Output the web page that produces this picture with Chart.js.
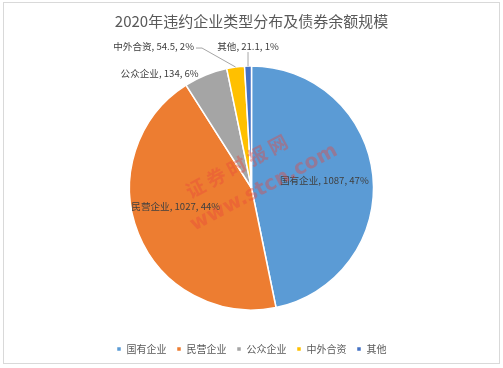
<!DOCTYPE html>
<html>
<head>
<meta charset="utf-8">
<script src="https://cdn.jsdelivr.net/npm/chart.js@4.4.0/dist/chart.umd.min.js"></script>
<style>
  html, body { margin: 0; padding: 0; background: #fff; }
  #wrap { width: 503px; height: 368px; }
</style>
</head>
<body>
<div id="wrap"><canvas id="myChart" width="503" height="368"></canvas></div>
<script>
// Dữ liệu
const categories = ['国有企业', '民营企业', '公众企业', '中外合资', '其他'];
const amounts = [1087, 1027, 134, 54.5, 21.1];
const percents = [47, 44, 6, 2, 1];
const chartTitle = '2020年违约企业类型分布及债券余额规模';

// Màu sắc
const colors = ['#5B9BD5', '#ED7D31', '#A5A5A5', '#FFC000', '#4472C4'];
const labelFont = '9.6px "Noto Sans CJK SC", sans-serif';

// Vị trí nhãn: r = hệ số bán kính, dx/dy = dịch chuyển, line = có đường dẫn
const labelPlace = [
    {r: 0.6, dx: 0, dy: 0, line: false},
    {r: 0.67, dx: 0, dy: -12, line: false},
    {r: 1.0, dx: -46, dy: -2, line: false},
    {r: 1.0, dx: -82, dy: -21, line: true},
    {r: 1.0, dx: 0, dy: -20, line: true}
];

// Khung nền
const framePlugin = {
    id: 'frame',
    beforeDraw(chart) {
        const c = chart.ctx;
        c.save();
        c.fillStyle = '#fff';
        c.fillRect(0, 0, chart.width, chart.height);
        c.strokeStyle = '#d9d9d9';
        c.lineWidth = 1;
        c.strokeRect(3.5, 2.5, 496, 361);
        c.restore();
    }
};

// Nhãn dữ liệu + watermark
const labelPlugin = {
    id: 'sliceLabels',
    afterDatasetsDraw(chart) {
        const c = chart.ctx;
        const arcs = chart.getDatasetMeta(0).data;
        c.save();
        c.font = labelFont;
        c.fillStyle = '#404040';
        c.textBaseline = 'middle';
        arcs.forEach((arc, i) => {
            const mid = (arc.startAngle + arc.endAngle) / 2;
            const p = labelPlace[i];
            const ox = arc.x + Math.cos(mid) * arc.outerRadius;
            const oy = arc.y + Math.sin(mid) * arc.outerRadius;
            const x = arc.x + Math.cos(mid) * arc.outerRadius * p.r + p.dx;
            const y = arc.y + Math.sin(mid) * arc.outerRadius * p.r + p.dy;
            const text = categories[i] + ', ' + amounts[i] + ', ' + percents[i] + '%';
            c.textAlign = 'center';
            c.fillText(text, x, y);
            if (p.line) {
                const w = c.measureText(text).width;
                c.strokeStyle = '#a6a6a6';
                c.lineWidth = 1;
                c.beginPath();
                if (p.dx < 0) {
                    c.moveTo(x + w / 2 + 2, y + 2);
                    c.lineTo(x + w / 2 + 8, y + 2);
                } else {
                    c.moveTo(x, y + 6);
                }
                c.lineTo(ox, oy);
                c.stroke();
            }
        });
        c.restore();

        // Watermark
        c.save();
        c.translate(246, 184);
        c.rotate(-28 * Math.PI / 180);
        c.fillStyle = 'rgba(232, 70, 60, 0.4)';
        c.textAlign = 'center';
        c.textBaseline = 'middle';
        c.font = 'bold 19px "Noto Sans CJK SC", sans-serif';
        c.fillText('证 券 时 报 网', 0, -20);
        c.font = 'bold 20px "DejaVu Sans", sans-serif';
        c.fillText('www.stcn.com', 14, 12);
        c.restore();
    }
};

const ctx = document.getElementById('myChart').getContext('2d');

const chart = new Chart(ctx, {
    type: 'pie',
    data: {
        labels: categories,
        datasets: [{
            data: amounts,
            backgroundColor: colors,
            borderColor: '#ffffff',
            borderWidth: 1.5,
            radius: 122
        }]
    },
    options: {
        responsive: false,
        animation: false,
        layout: {
            padding: {top: 0, bottom: 4, left: 0, right: 0}
        },
        plugins: {
            title: {
                display: true,
                text: chartTitle,
                color: '#595959',
                font: {family: '"Noto Sans CJK SC", sans-serif', size: 15, weight: 'normal'},
                padding: {top: 12, bottom: 12}
            },
            legend: {
                position: 'bottom',
                labels: {
                    color: '#595959',
                    font: {family: '"Noto Sans CJK SC", sans-serif', size: 10},
                    boxWidth: 5,
                    boxHeight: 5,
                    padding: 10
                }
            },
            tooltip: {enabled: false}
        }
    },
    plugins: [framePlugin, labelPlugin]
});
</script>
</body>
</html>
